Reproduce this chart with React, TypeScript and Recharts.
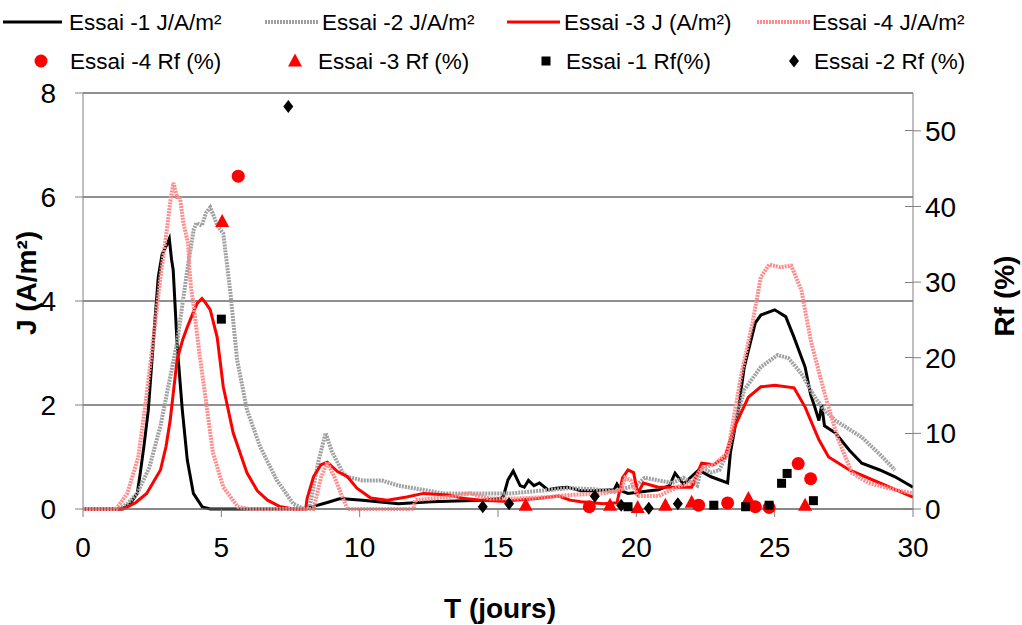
import React from 'react';
import { ComposedChart, Line, Scatter, XAxis, YAxis, CartesianGrid } from 'recharts';

// J curves (A/m²), time in days
const essai1Days = [0, 1.4, 1.7, 1.96, 2.07, 2.2, 2.36, 2.54, 2.72, 2.86, 3.0, 3.12, 3.2, 3.26, 3.41, 3.59, 3.77, 3.99, 4.31, 4.6, 8.0, 8.33, 8.8, 9.3, 10.1, 11.4, 12.6, 14.4, 15.1, 15.2, 15.36, 15.55, 15.8, 15.95, 16.1, 16.3, 16.5, 16.8, 17.1, 17.5, 18.0, 18.4, 19.2, 19.3, 19.45, 19.7, 20.2, 20.8, 21.2, 21.4, 21.7, 22.25, 22.7, 23.3, 23.4, 23.7, 23.9, 24.3, 24.5, 25.0, 25.4, 25.7, 26.1, 26.3, 26.45, 26.6, 26.7, 26.8, 27.2, 27.7, 28.15, 28.8, 29.35, 30];
const essai1J = [0, 0, 0.1, 0.3, 0.69, 1.2, 1.9, 3.2, 4.46, 4.9, 5.05, 5.2, 4.8, 4.6, 3.1, 1.9, 0.94, 0.3, 0.04, 0, 0, 0.05, 0.12, 0.2, 0.17, 0.1, 0.14, 0.17, 0.2, 0.25, 0.56, 0.73, 0.45, 0.42, 0.55, 0.45, 0.5, 0.37, 0.4, 0.42, 0.35, 0.35, 0.37, 0.48, 0.35, 0.3, 0.33, 0.37, 0.45, 0.69, 0.48, 0.75, 0.62, 0.5, 1.08, 1.96, 2.73, 3.58, 3.73, 3.83, 3.7, 3.3, 2.73, 2.2, 1.96, 1.7, 2.0, 1.6, 1.46, 1.13, 0.88, 0.75, 0.62, 0.42];

const essai2Days = [0, 1.3, 1.6, 1.96, 2.4, 2.8, 3.1, 3.4, 3.77, 4.0, 4.1, 4.3, 4.45, 4.6, 4.75, 4.85, 5.07, 5.33, 5.57, 5.93, 6.4, 7.0, 7.6, 8.0, 8.2, 8.5, 8.77, 9.0, 9.4, 9.56, 10.1, 10.8, 11.4, 12.3, 13.0, 14.3, 15.5, 16.5, 17.6, 18.5, 19.2, 19.6, 20.0, 20.3, 20.8, 21.3, 21.7, 22.2, 22.35, 22.7, 23.0, 23.3, 23.6, 23.9, 24.5, 25.1, 25.5, 25.97, 26.45, 26.8, 27.2, 28.15, 28.8, 29.35];
const essai2J = [0, 0, 0.1, 0.3, 0.8, 1.6, 2.4, 3.2, 4.6, 5.37, 5.5, 5.45, 5.7, 5.8, 5.6, 5.45, 5.3, 4.15, 2.87, 1.9, 1.2, 0.56, 0.1, 0, 0.05, 0.9, 1.46, 1.1, 0.69, 0.62, 0.55, 0.55, 0.45, 0.37, 0.3, 0.3, 0.3, 0.35, 0.4, 0.38, 0.33, 0.4, 0.45, 0.6, 0.55, 0.5, 0.6, 0.45, 0.8, 0.7, 0.75, 1.08, 1.7, 2.29, 2.73, 2.96, 2.9, 2.6, 2.15, 1.9, 1.7, 1.38, 1.05, 0.75];

const essai3Days = [0, 1.45, 1.9, 2.3, 2.8, 3.0, 3.15, 3.4, 3.6, 3.77, 4.0, 4.13, 4.3, 4.45, 4.6, 4.85, 5.07, 5.43, 5.93, 6.3, 6.67, 7.1, 7.6, 8.05, 8.1, 8.33, 8.6, 8.83, 9.2, 9.56, 9.9, 10.4, 11.0, 11.7, 12.3, 13.2, 13.8, 14.4, 15.2, 16.4, 17.2, 17.6, 18.0, 18.8, 19.3, 19.5, 19.7, 19.9, 20.05, 20.25, 20.8, 21.4, 22.0, 22.36, 22.8, 23.2, 23.55, 24.05, 24.5, 25.0, 25.7, 26.1, 26.6, 26.95, 27.7, 28.8, 30];
const essai3J = [0, 0, 0.12, 0.3, 0.75, 1.2, 1.7, 2.87, 3.25, 3.5, 3.8, 3.96, 4.05, 3.95, 3.83, 3.3, 2.35, 1.46, 0.69, 0.35, 0.17, 0.05, 0, 0, 0.2, 0.62, 0.85, 0.9, 0.72, 0.62, 0.4, 0.21, 0.17, 0.23, 0.3, 0.27, 0.2, 0.17, 0.15, 0.2, 0.25, 0.17, 0.14, 0.1, 0.12, 0.6, 0.75, 0.7, 0.3, 0.5, 0.42, 0.42, 0.42, 0.88, 0.85, 1.0, 1.58, 2.15, 2.35, 2.38, 2.33, 1.96, 1.33, 1.0, 0.75, 0.5, 0.23];

const essai4Days = [0, 1.2, 1.6, 2.0, 2.3, 2.55, 2.8, 3.04, 3.15, 3.27, 3.4, 3.5, 3.63, 3.8, 3.85, 3.9, 4.0, 4.24, 4.5, 4.7, 5.07, 5.6, 6.0, 8.33, 8.6, 8.83, 9.1, 9.4, 9.56, 11.95, 12.0, 13.2, 14.0, 14.7, 15.6, 16.8, 17.6, 18.8, 19.45, 19.6, 19.8, 20.05, 20.8, 21.6, 22.0, 22.4, 22.8, 23.3, 23.8, 24.2, 24.5, 24.8, 25.2, 25.6, 25.97, 26.3, 26.8, 27.3, 27.8, 28.4, 29.35, 30];
const essai4J = [0, 0, 0.3, 1.0, 2.2, 3.3, 4.46, 5.4, 5.9, 6.27, 6.0, 6.0, 5.5, 5.1, 4.6, 4.27, 3.9, 2.87, 1.85, 1.08, 0.42, 0.04, 0, 0, 0.6, 0.9, 0.6, 0.2, 0, 0, 0.17, 0.23, 0.3, 0.2, 0.2, 0.23, 0.27, 0.3, 0.37, 0.6, 0.55, 0.25, 0.25, 0.45, 0.5, 0.8, 0.85, 1.08, 2.6, 3.58, 4.46, 4.7, 4.65, 4.68, 4.2, 3.25, 2.23, 1.33, 0.69, 0.5, 0.37, 0.3];

// Rf (%) points
const rf4Days = [5.61, 18.3, 22.25, 23.3, 24.3, 24.8, 25.85, 26.3];
const rf4 = [44, 0.3, 0.5, 0.8, 0.3, 0.2, 6.0, 4.0];
const rf3Days = [5.03, 16.0, 19.05, 20.05, 21.05, 22.0, 24.05, 26.1];
const rf3 = [38, 0.5, 0.5, 0.2, 0.5, 0.9, 1.4, 0.5];
const rf1Days = [5.0, 19.7, 22.8, 23.95, 24.8, 25.25, 25.45, 26.4];
const rf1 = [25.1, 0.3, 0.5, 0.3, 0.5, 3.4, 4.7, 1.1];
const rf2Days = [7.42, 14.45, 15.4, 18.5, 19.45, 20.45, 21.5];
const rf2 = [53.2, 0.3, 0.7, 1.7, 0.5, 0.1, 0.7];

const xTicks = [0, 5, 10, 15, 20, 25, 30];
const jTicks = [0, 2, 4, 6, 8];
const rfTicks = [0, 10, 20, 30, 40, 50];

const toJ = (days: number[], vals: number[]) => days.map((t, i) => ({ t, j: vals[i] }));
const toRf = (days: number[], vals: number[]) => days.map((t, i) => ({ t, rf: vals[i] }));

const FONT = '"Liberation Sans", Arial, sans-serif';

const Circle = (p: any) => <circle cx={p.cx} cy={p.cy} r={6.5} fill="#ff0000" />;
const Triangle = (p: any) => (
  <polygon points={`${p.cx},${p.cy - 7.5} ${p.cx + 7},${p.cy + 5.5} ${p.cx - 7},${p.cy + 5.5}`} fill="#ff0000" />
);
const Square = (p: any) => <rect x={p.cx - 4.5} y={p.cy - 4.5} width={9} height={9} fill="#000" />;
const Diamond = (p: any) => (
  <polygon points={`${p.cx},${p.cy - 6.5} ${p.cx + 5},${p.cy} ${p.cx},${p.cy + 6.5} ${p.cx - 5},${p.cy}`} fill="#000" />
);

const RightTick = (p: any) => {
  const ax = p.x - 12;
  return (
    <g>
      <line x1={ax - 8} x2={ax} y1={p.y} y2={p.y} stroke="#808080" shapeRendering="crispEdges" />
      <text x={p.x} y={p.y} dy="0.36em" textAnchor="start" fontSize={28} fill="#000">
        {p.payload.value}
      </text>
    </g>
  );
};

const lineItems = [
  { name: 'Essai -1 J/A/m²', color: '#000', width: 3, dash: undefined as string | undefined, x: 3, len: 59, tx: 69 },
  { name: 'Essai -2 J/A/m²', color: '#a0a0a0', width: 4, dash: '2 1', x: 265, len: 53, tx: 322 },
  { name: 'Essai -3 J (A/m²)', color: '#ff0000', width: 3, dash: undefined, x: 507, len: 53, tx: 564 },
  { name: 'Essai -4 J/A/m²', color: '#ff8c8c', width: 4, dash: '2 1', x: 757, len: 53, tx: 812 },
];
const markerItems = [
  { name: 'Essai -4 Rf (%)', Shape: Circle, x: 41, tx: 70 },
  { name: 'Essai -3 Rf (%)', Shape: Triangle, x: 295, tx: 318 },
  { name: 'Essai -1 Rf(%)', Shape: Square, x: 546, tx: 566 },
  { name: 'Essai -2 Rf (%)', Shape: Diamond, x: 794, tx: 814 },
];

const titleStyle: React.CSSProperties = {
  position: 'absolute',
  fontWeight: 'bold',
  fontSize: 28,
  lineHeight: '30px',
  whiteSpace: 'nowrap',
};

export default function App() {
  return (
    <div style={{ position: 'absolute', left: 0, top: 0, width: 1022, height: 625, fontFamily: FONT, background: '#fff' }}>
      <ComposedChart width={1022} height={625} margin={{ top: 93, right: 39, bottom: 0, left: 23 }}>
        <CartesianGrid
          yAxisId="left"
          vertical={false}
          horizontal={{ stroke: '#202020', shapeRendering: 'crispEdges' } as any}
          stroke="#202020"
        />
        <XAxis
          type="number"
          dataKey="t"
          domain={[0, 30]}
          ticks={xTicks}
          height={116}
          stroke="#808080"
          tickSize={8}
          tickMargin={20}
          tick={{ fontSize: 28, fill: '#000' }}
          allowDataOverflow
        />
        <YAxis
          yAxisId="left"
          dataKey="j"
          domain={[0, 8]}
          ticks={jTicks}
          width={60}
          stroke="#808080"
          tickSize={8}
          tickMargin={19}
          tick={{ fontSize: 28, fill: '#000' }}
        />
        <YAxis
          yAxisId="right"
          orientation="right"
          dataKey="rf"
          domain={[0, 55]}
          ticks={rfTicks}
          width={70}
          stroke="#808080"
          tickSize={8}
          tickMargin={4}
          tick={<RightTick />}
        />
        <Line data={toJ(essai1Days, essai1J)} yAxisId="left" dataKey="j" stroke="#000" strokeWidth={3} dot={false} isAnimationActive={false} />
        <Line data={toJ(essai2Days, essai2J)} yAxisId="left" dataKey="j" stroke="#a0a0a0" strokeWidth={4} strokeDasharray="2 1" dot={false} isAnimationActive={false} />
        <Line data={toJ(essai3Days, essai3J)} yAxisId="left" dataKey="j" stroke="#ff0000" strokeWidth={3} dot={false} isAnimationActive={false} />
        <Line data={toJ(essai4Days, essai4J)} yAxisId="left" dataKey="j" stroke="#ff8c8c" strokeWidth={4} strokeDasharray="2 1" dot={false} isAnimationActive={false} />
        <Scatter data={toRf(rf4Days, rf4)} yAxisId="right" dataKey="rf" shape={Circle} isAnimationActive={false} />
        <Scatter data={toRf(rf3Days, rf3)} yAxisId="right" dataKey="rf" shape={Triangle} isAnimationActive={false} />
        <Scatter data={toRf(rf1Days, rf1)} yAxisId="right" dataKey="rf" shape={Square} isAnimationActive={false} />
        <Scatter data={toRf(rf2Days, rf2)} yAxisId="right" dataKey="rf" shape={Diamond} isAnimationActive={false} />
      </ComposedChart>

      {/* legend, two rows */}
      <svg width={1022} height={80} style={{ position: 'absolute', left: 0, top: 0 }}>
        {lineItems.map(it => (
          <g key={it.name}>
            <line x1={it.x} x2={it.x + it.len} y1={22} y2={22} stroke={it.color} strokeWidth={it.width} strokeDasharray={it.dash} />
            <text x={it.tx} y={22} dy="0.36em" fontSize={22.5} fill="#000">{it.name}</text>
          </g>
        ))}
        {markerItems.map(it => (
          <g key={it.name}>
            <it.Shape cx={it.x} cy={61} />
            <text x={it.tx} y={61} dy="0.36em" fontSize={22.5} fill="#000">{it.name}</text>
          </g>
        ))}
      </svg>

      {/* axis titles */}
      <div style={{ ...titleStyle, left: 27, top: 283, transform: 'translate(-50%, -50%) rotate(-90deg)' }}>J (A/m²)</div>
      <div style={{ ...titleStyle, left: 1005, top: 296, transform: 'translate(-50%, -50%) rotate(-90deg)' }}>Rf (%)</div>
      <div style={{ ...titleStyle, left: 500, top: 609, transform: 'translate(-50%, -50%)' }}>T (jours)</div>
    </div>
  );
}
